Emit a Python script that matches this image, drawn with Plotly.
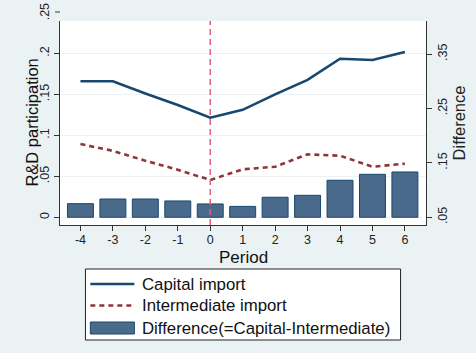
import plotly.graph_objects as go

# Event-time periods around the first import
periods = [-4, -3, -2, -1, 0, 1, 2, 3, 4, 5, 6]

# R&D participation rates
capital_import = [0.166, 0.166, 0.151, 0.137, 0.1215, 0.131, 0.150, 0.1675, 0.1934, 0.1918, 0.2016]
intermediate_import = [0.0894, 0.081, 0.069, 0.058, 0.0455, 0.0585, 0.0617, 0.0768, 0.0751, 0.0617, 0.0654]
difference = [0.075, 0.0836, 0.0836, 0.080, 0.0745, 0.070, 0.0868, 0.0904, 0.118, 0.129, 0.1333]
diff_base = 0.05

left_ticks = [0, 0.05, 0.1, 0.15, 0.2]
left_ticktext = ["0", ".05", ".1", ".15", ".2"]
right_ticks = [0.05, 0.15, 0.25, 0.35]
right_ticktext = [".05", ".15", ".25", ".35"]

NAVY = "#1a476f"
MAROON = "#90353b"
BAR_FILL = "#4a6a8b"
BG = "#eaf2f3"
FONT = "Liberation Sans, Arial, sans-serif"

# plot-region geometry in pixels, used for paper-coordinate placement
PL, PR, PT, PB = 60, 434, 21, 225
PW, PH = PR - PL, PB - PT


def px(x):
    return (x - PL) / PW


def py(y):
    return (PB - y) / PH


fig = go.Figure()

fig.add_trace(go.Bar(
    x=periods, y=[d - diff_base for d in difference], base=diff_base,
    yaxis="y2", width=0.8,
    marker=dict(color=BAR_FILL, line=dict(color=NAVY, width=1)),
    name="Difference(=Capital-Intermediate)", showlegend=False,
))
fig.add_trace(go.Scatter(
    x=periods, y=capital_import, mode="lines",
    line=dict(color=NAVY, width=2.6), name="Capital import", showlegend=False,
))
fig.add_trace(go.Scatter(
    x=periods, y=intermediate_import, mode="lines",
    line=dict(color=MAROON, width=2.6, dash="5px,4px"),
    name="Intermediate import", showlegend=False,
))

# Vertical reference line at period 0
fig.add_shape(type="line", xref="x", yref="paper", x0=0, x1=0, y0=0, y1=1,
              line=dict(color="#e0607e", width=1.5, dash="6px,4px"), layer="above")

# Top tick of the left axis sits above the plot region
fig.add_shape(type="line", xref="paper", yref="paper",
              x0=px(55), x1=px(60), y0=py(12), y1=py(12),
              line=dict(color="#333", width=1))
fig.add_annotation(xref="paper", yref="paper", x=px(45), y=py(12),
                   xanchor="center", yanchor="middle",
                   text=".25", textangle=-90, showarrow=False,
                   font=dict(family=FONT, size=12.5, color="#222"))

# Axis titles
fig.add_annotation(xref="paper", yref="paper", x=px(31), y=0.5,
                   xanchor="center", yanchor="middle",
                   text="R&D participation", textangle=-90, showarrow=False,
                   font=dict(family=FONT, size=16.5, color="#111"))
fig.add_annotation(xref="paper", yref="paper", x=px(247), y=py(257),
                   xanchor="center", yanchor="middle",
                   text="Period", showarrow=False,
                   font=dict(family=FONT, size=17, color="#111"))

# Legend box
fig.add_shape(type="rect", xref="paper", yref="paper",
              x0=px(86), x1=px(408), y0=py(340), y1=py(269),
              line=dict(color="#222", width=1), fillcolor="white")
legend_rows = [284, 305.5, 328]
x_s0, x_s1 = px(91), px(136)
fig.add_shape(type="line", xref="paper", yref="paper", x0=x_s0, x1=x_s1,
              y0=py(legend_rows[0]), y1=py(legend_rows[0]),
              line=dict(color=NAVY, width=2.6))
fig.add_shape(type="line", xref="paper", yref="paper", x0=x_s0, x1=x_s1,
              y0=py(legend_rows[1]), y1=py(legend_rows[1]),
              line=dict(color=MAROON, width=2.6, dash="5px,4px"))
fig.add_shape(type="rect", xref="paper", yref="paper", x0=x_s0, x1=x_s1,
              y0=py(legend_rows[2] + 6), y1=py(legend_rows[2] - 6),
              line=dict(color=NAVY, width=1), fillcolor=BAR_FILL)
for row, trace in zip(legend_rows, fig.data[1:] + fig.data[:1]):
    fig.add_annotation(xref="paper", yref="paper", x=px(142),
                       y=py(row), text=trace.name, showarrow=False,
                       xanchor="left", yanchor="middle",
                       font=dict(family=FONT, size=16.8, color="#111"))

fig.update_layout(
    width=476, height=353,
    margin=dict(l=PL, r=476 - PR, t=PT, b=353 - PB),
    paper_bgcolor=BG, plot_bgcolor="white",
    font=dict(family=FONT, color="#222"),
    xaxis=dict(
        range=[-4.63, 6.65], tickvals=periods, ticktext=[str(p) for p in periods],
        showgrid=False, zeroline=False, showline=True, linecolor="#333", linewidth=1,
        ticks="outside", ticklen=5, tickcolor="#333", tickfont=dict(size=12.5),
        ticklabelstandoff=-2,
    ),
    yaxis=dict(
        range=[-0.00939, 0.2394], tickvals=left_ticks, ticktext=left_ticktext,
        tickangle=-90, showgrid=True, gridcolor=BG, gridwidth=1, zeroline=False,
        showline=True, linecolor="#333", linewidth=1,
        ticks="outside", ticklen=5, tickcolor="#333", tickfont=dict(size=12.5),
    ),
    yaxis2=dict(
        range=[0.0358, 0.4108], tickvals=right_ticks, ticktext=right_ticktext,
        tickangle=-90, overlaying="y", side="right", showgrid=False, zeroline=False,
        showline=True, linecolor="#333", linewidth=1,
        ticks="outside", ticklen=5, tickcolor="#333", tickfont=dict(size=12.5),
        title=dict(text="Difference", font=dict(size=16.5), standoff=2),
    ),
    showlegend=False,
)

fig.write_html("out.html")
